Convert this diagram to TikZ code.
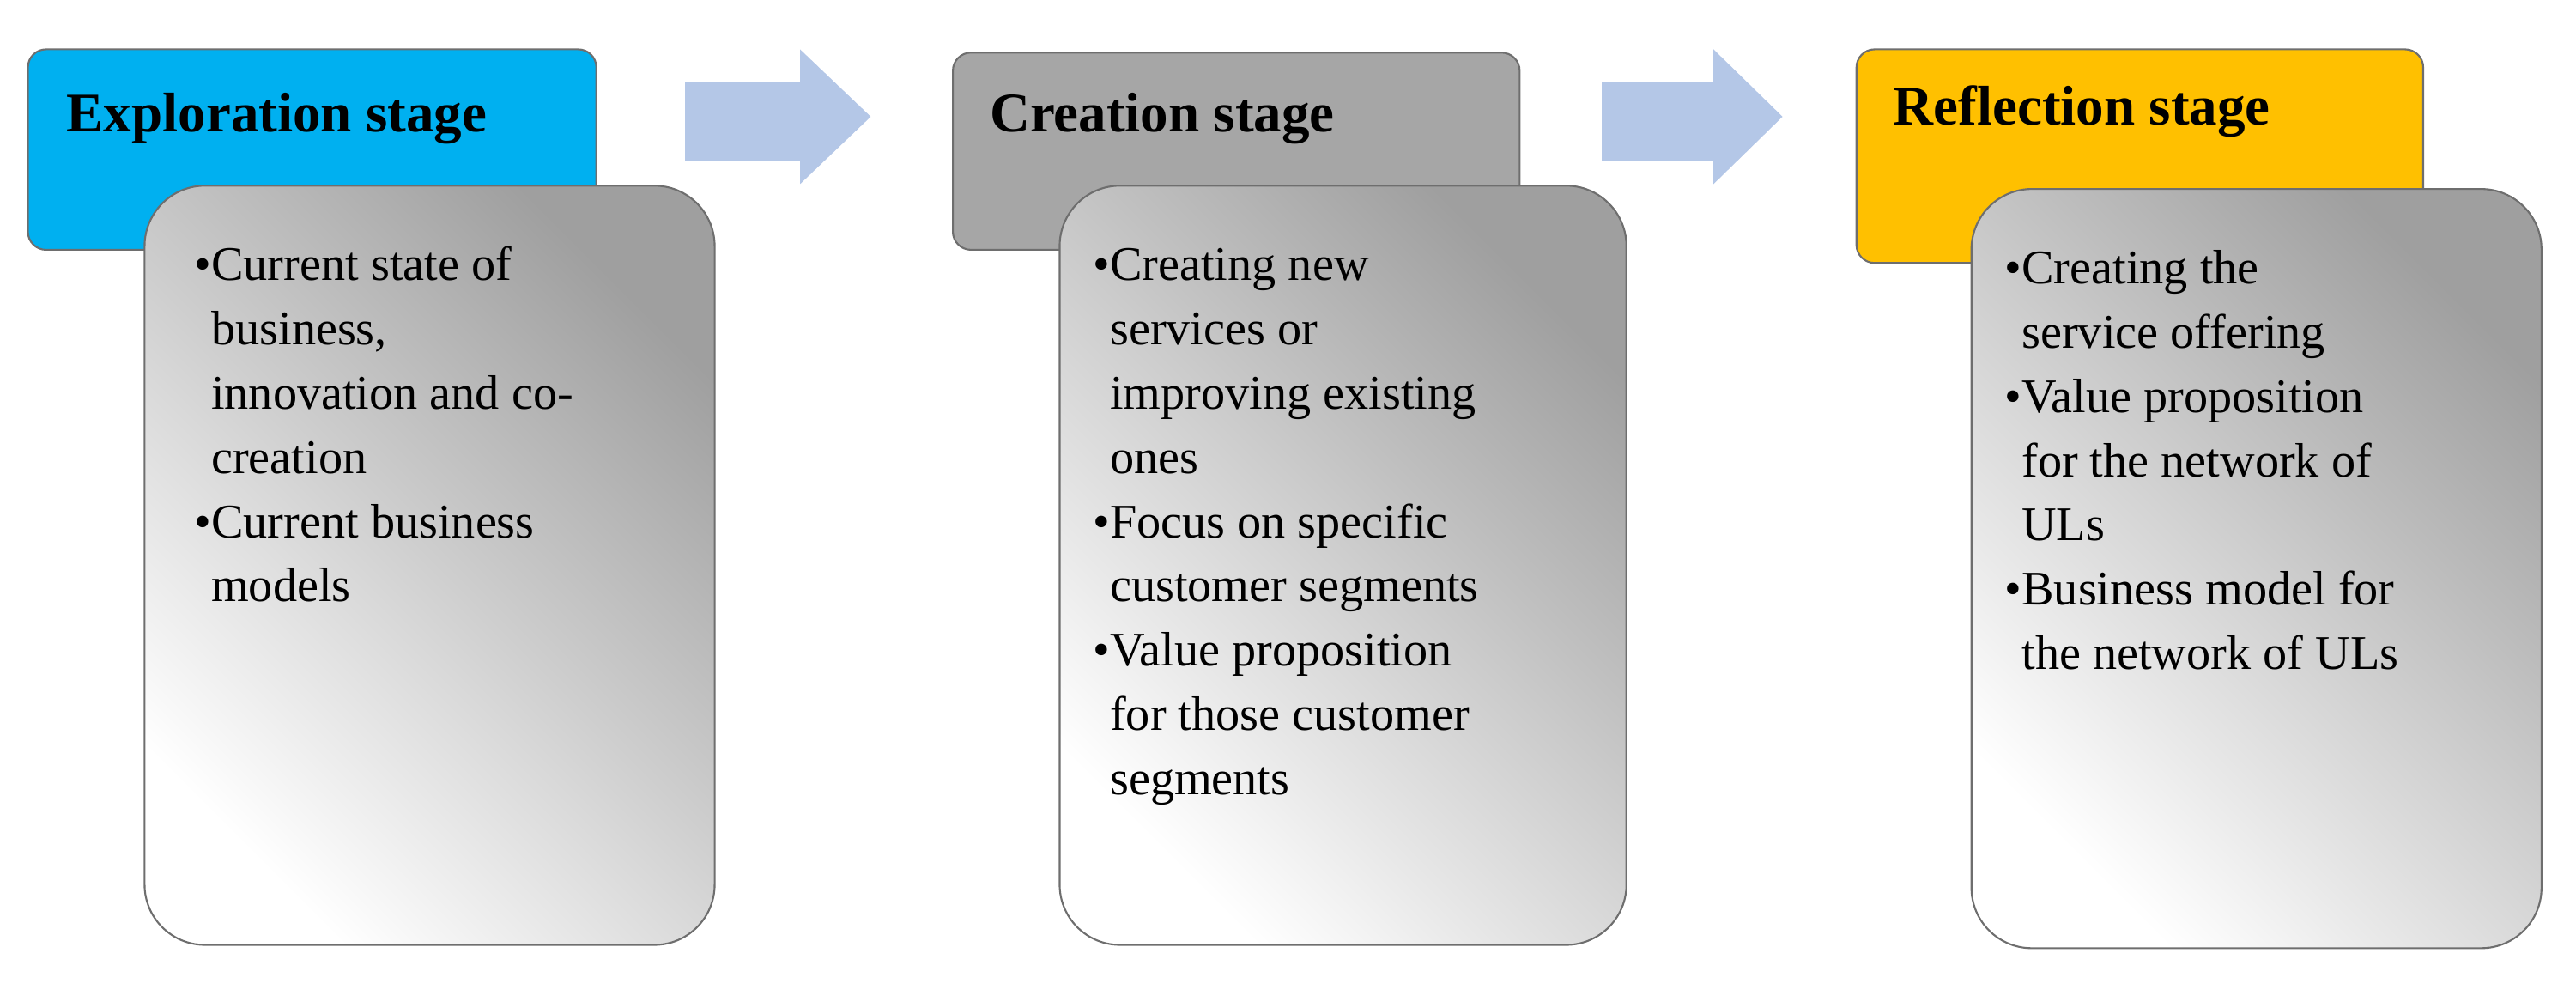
\documentclass[tikz,border=0pt]{standalone}
\usepackage{fontspec}
\setmainfont{Liberation Serif}
\begin{document}
\definecolor{cy}{RGB}{0,176,240}
\definecolor{gr}{RGB}{166,166,166}
\definecolor{ye}{RGB}{255,192,0}
\definecolor{ar}{RGB}{180,199,231}
\definecolor{bd}{RGB}{110,110,110}
\begin{tikzpicture}[x=0.019139cm,y=-0.019136cm,
  head/.style={draw=bd,line width=0.6pt,rounded corners=6pt},
  body/.style={draw=bd,line width=0.6pt,rounded corners=20pt,shading=axis,left color=white,right color=gray!75,shading angle=135},
  htxt/.style={anchor=west,font=\fontsize{18.5}{22}\selectfont\bfseries},
  btxt/.style={anchor=north west,font=\fontsize{16}{19}\selectfont,inner sep=0pt},
  arr/.style={fill=ar,draw=none}]
\useasboundingbox (0,0) rectangle (1568,602);
% stage 1
\draw[head,fill=cy] (17,30) rectangle (363,152);
\node[htxt] (h1) at (34,72) {Exploration stage};
\shade[body] (88,113) rectangle (435,575);
\node[btxt] (b1) at (118,143) {\renewcommand{\arraystretch}{1.12}\begin{tabular}{@{}l@{}l@{}}\textbullet&Current state of\\&business,\\&innovation and co-\\&creation\\\textbullet&Current business\\&models\end{tabular}};
% arrow 1
\fill[arr] (417,50) -- (487,50) -- (487,30) -- (530,71) -- (487,112) -- (487,98) -- (417,98) -- cycle;
% stage 2
\draw[head,fill=gr] (580,32) rectangle (925,152);
\node[htxt] (h2) at (596,72) {Creation stage};
\shade[body] (645,113) rectangle (990,575);
\node[btxt] (b2) at (665,143) {\renewcommand{\arraystretch}{1.12}\begin{tabular}{@{}l@{}l@{}}\textbullet&Creating new\\&services or\\&improving existing\\&ones\\\textbullet&Focus on specific\\&customer segments\\\textbullet&Value proposition\\&for those customer\\&segments\end{tabular}};
% arrow 2
\fill[arr] (975,50) -- (1043,50) -- (1043,30) -- (1085,71) -- (1043,112) -- (1043,98) -- (975,98) -- cycle;
% stage 3
\draw[head,fill=ye] (1130,30) rectangle (1475,160);
\node[htxt] (h3) at (1146,68) {Reflection stage};
\shade[body] (1200,115) rectangle (1547,577);
\node[btxt] (b3) at (1220,145) {\renewcommand{\arraystretch}{1.12}\begin{tabular}{@{}l@{}l@{}}\textbullet&Creating the\\&service offering\\\textbullet&Value proposition\\&for the network of\\&ULs\\\textbullet&Business model for\\&the network of ULs\end{tabular}};
\end{tikzpicture}
\end{document}
